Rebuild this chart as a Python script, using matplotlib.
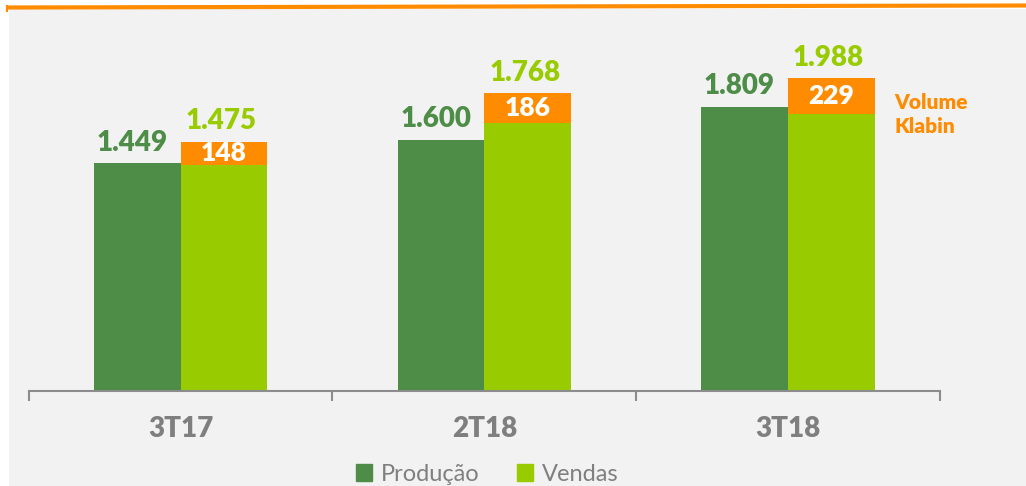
import matplotlib
matplotlib.use("Agg")
import matplotlib.pyplot as plt
from matplotlib.patches import Rectangle, Patch
from matplotlib.lines import Line2D

plt.rcParams['font.family'] = ['Lato', 'DejaVu Sans']

# values
categories = ['3T17', '2T18', '3T18']
producao = [1449, 1600, 1809]
vendas = [1475, 1768, 1988]
klabin = [148, 186, 229]
# where the orange "Volume Klabin" box sits on the chart (it is not exactly on top of the bar)
klabin_base = [1438, 1708, 1761]

DARK_GREEN = '#4E8D47'
LIGHT_GREEN = '#99CC00'
ORANGE = '#FF8C00'
GREY = '#7F7F7F'
BG = '#F2F2F2'

W, H = 1026, 486


def fmt(v):
    return f"{v:,}".replace(',', '.')


fig = plt.figure(figsize=(W / 100, H / 100), dpi=100)
fig.patch.set_facecolor('white')

# grey panel + orange rule on top
fig.patches.append(Rectangle((9 / W, 0), 1, 1 - 9 / H, transform=fig.transFigure,
                             facecolor=BG, edgecolor='none', zorder=-10))
fig.add_artist(Line2D([6 / W, 1], [1 - 7.5 / H, 1 - 5.5 / H], color=ORANGE, lw=3,
                      solid_capstyle='butt'))
fig.add_artist(Line2D([7 / W, 7 / W], [1 - 6 / H, 1 - 11 / H], color=ORANGE, lw=1.5))

ax = fig.add_axes([28.8 / W, 95 / H, 911 / W, 377 / H])
ax.set_facecolor('none')

x = list(range(len(categories)))
bw = 0.285
xp = [i - bw / 2 for i in x]
xv = [i + bw / 2 for i in x]

ax.bar(xp, producao, width=bw, color=DARK_GREEN, zorder=2)
ax.bar(xv, vendas, width=bw, color=LIGHT_GREEN, zorder=2)
ax.bar(xv, klabin, width=bw, bottom=klabin_base, color=ORANGE, zorder=3)

for i in x:
    ax.annotate(fmt(producao[i]), (xp[i], producao[i]), xytext=(-4, 9),
                textcoords='offset points', ha='center', va='baseline',
                fontsize=20, fontweight='heavy', color=DARK_GREEN)
    top = klabin_base[i] + klabin[i]
    ax.annotate(fmt(vendas[i]), (xv[i], top), xytext=(-2, 9),
                textcoords='offset points', ha='center', va='baseline',
                fontsize=20, fontweight='heavy', color=LIGHT_GREEN)
    ax.text(xv[i], klabin_base[i] + klabin[i] / 2, str(klabin[i]), ha='center', va='center',
            fontsize=19, fontweight='heavy', color='white', zorder=4)
    ax.annotate(categories[i], (i, 0), xytext=(0, -33), textcoords='offset points',
                ha='center', va='baseline', fontsize=20, fontweight='heavy', color=GREY)

ax.text(2.5 - 0.15, klabin_base[2], 'Volume\nKlabin', ha='left', va='center',
        fontsize=15, fontweight='heavy', color=ORANGE, linespacing=1.35)

ax.set_xlim(-0.5, 2.5)
ax.set_ylim(0, 2400)
for s in ['left', 'top', 'right']:
    ax.spines[s].set_visible(False)
ax.spines['bottom'].set_color('#8C8C8C')
ax.spines['bottom'].set_linewidth(1.5)
ax.set_yticks([])
ax.set_xticks([-0.5, 0.5, 1.5, 2.5])
ax.set_xticklabels([])
ax.tick_params(axis='x', direction='out', length=7, width=1.5, color='#8C8C8C')

handles = [Patch(color=DARK_GREEN, label='Produção'), Patch(color=LIGHT_GREEN, label='Vendas')]
fig.legend(handles=handles, loc='center', bbox_to_anchor=(487 / W, 1 - 474 / H), ncol=2,
           frameon=False, fontsize=17, labelcolor=GREY, handlelength=0.7, handleheight=0.7,
           handletextpad=0.35, columnspacing=1.6)

fig.savefig('out.png', dpi=100)
